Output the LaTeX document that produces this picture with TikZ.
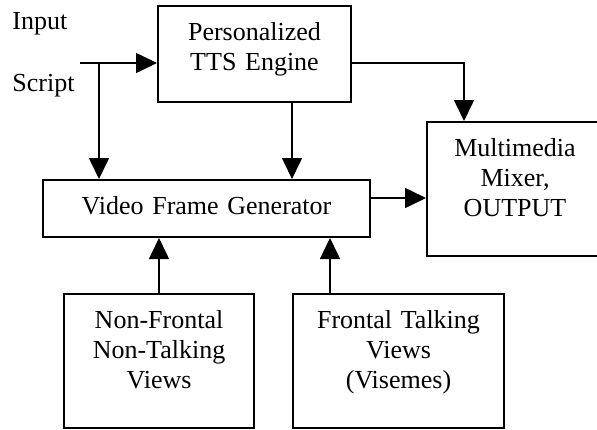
\documentclass[tikz,border=0pt]{standalone}
\usepackage{fontspec}
\setmainfont{Liberation Serif}
\usetikzlibrary{arrows.meta}
\begin{document}
\begin{tikzpicture}[x=0.5pt,y=-0.5pt]
\tikzstyle{every node}+=[inner sep=0pt, font=\fontsize{13}{15}\selectfont]
\tikzstyle{blk}=[draw, line width=1pt, anchor=north west, align=center, text height=17.25pt]
\tikzstyle{link}=[line width=0.8pt, -{Triangle[length=10.5pt,width=10pt]}]
\useasboundingbox (0,0) rectangle (597,429);
\node [blk, text width=96.5pt, text depth=30.75pt] (tts) at (157,5) {Personalized\\TTS Engine};
\node [blk, text width=163.5pt, text depth=11.25pt] (video) at (42,179) {Video Frame Generator};
\node [blk, text width=88pt, text depth=49.75pt] (mixer) at (426,121) {Multimedia\\Mixer,\\OUTPUT};
\node [blk, text width=95pt, text depth=49.75pt] (nonfront) at (63,293) {Non-Frontal\\Non-Talking\\Views};
\node [blk, text width=105.5pt, text depth=49.75pt] (front) at (292,293) {Frontal Talking\\Views\\(Visemes)};
\node [anchor=base west] (input) at (12,29) {Input};
\node [anchor=base west] (script) at (12,91) {Script};
\coordinate (start) at (80,63);
\coordinate (split) at (99,63);
\coordinate (ttsdown) at (292,0);
\coordinate (ttsright) at (464,63);
\coordinate (videoright) at (0,198);
\coordinate (frontup) at (330,0);
\draw [link] (start) -- (start -| tts.west);
\draw [link] (split) -- (split |- video.north);
\draw [link] (ttsdown |- tts.south) -- (ttsdown |- video.north);
\draw [link] (ttsright -| tts.east) -- (ttsright) -- (ttsright |- mixer.north);
\draw [link] (videoright -| video.east) -- (videoright -| mixer.west);
\draw [link] (nonfront.north) -- (nonfront.north |- video.south);
\draw [link] (frontup |- front.north) -- (frontup |- video.south);
\end{tikzpicture}
\end{document}
